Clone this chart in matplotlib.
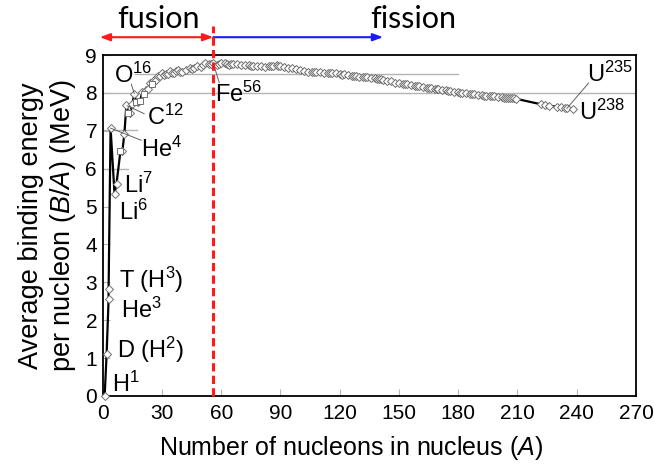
import matplotlib
matplotlib.use("Agg")
import matplotlib.pyplot as plt

plt.rcParams['font.family'] = ['Liberation Sans', 'DejaVu Sans']
plt.rcParams['mathtext.fontset'] = 'custom'
plt.rcParams['mathtext.rm'] = 'Liberation Sans'
plt.rcParams['mathtext.it'] = 'Liberation Sans:italic'
plt.rcParams['mathtext.bf'] = 'Liberation Sans:bold'

# ---- data: mass number A and binding energy per nucleon (MeV) ----
mass_number = [1, 2, 3, 3, 4, 6, 7, 9, 10, 11, 12, 13, 14, 15, 16, 17, 18, 19, 20, 21,
               22, 23, 24, 25, 26, 27, 28, 29, 30, 31, 32, 33, 34, 35, 36, 37, 38, 39,
               40, 42, 44, 45, 46, 48, 50, 51, 52, 54, 55, 56, 58, 59, 60, 62, 63, 64,
               65, 66, 68, 70, 72, 74, 75, 76, 78, 80, 82, 84, 85, 86, 88, 89, 90, 92,
               94, 96, 98, 100, 102, 104, 106, 107, 108, 110, 112, 114, 115, 116, 118,
               120, 121, 122, 124, 126, 127, 128, 130, 132, 133, 134, 136, 138, 139,
               140, 141, 142, 144, 146, 148, 150, 152, 153, 154, 156, 158, 159, 160,
               162, 164, 165, 166, 168, 169, 170, 172, 174, 175, 176, 178, 180, 181,
               182, 184, 186, 187, 188, 190, 192, 193, 194, 196, 197, 198, 200, 202,
               203, 204, 205, 206, 207, 208, 209, 222, 224, 226, 230, 232, 234, 235, 238]
binding_per_nucleon = [0.0, 1.112, 2.573, 2.827, 7.074, 5.332, 5.606, 6.463, 6.475, 6.928,
                       7.680, 7.470, 7.476, 7.699, 7.976, 7.751, 7.767, 7.779, 8.032, 7.972,
                       8.080, 8.112, 8.261, 8.223, 8.334, 8.332, 8.448, 8.449, 8.521, 8.481,
                       8.493, 8.498, 8.584, 8.520, 8.520, 8.570, 8.614, 8.557, 8.551, 8.617,
                       8.658, 8.619, 8.656, 8.723, 8.696, 8.742, 8.776, 8.764, 8.765, 8.790,
                       8.732, 8.768, 8.781, 8.795, 8.752, 8.736, 8.757, 8.760, 8.756, 8.729,
                       8.732, 8.725, 8.701, 8.711, 8.718, 8.711, 8.693, 8.717, 8.697, 8.712,
                       8.733, 8.714, 8.710, 8.693, 8.666, 8.654, 8.635, 8.605, 8.585, 8.562,
                       8.545, 8.554, 8.542, 8.551, 8.514, 8.531, 8.516, 8.523, 8.517, 8.505,
                       8.482, 8.488, 8.473, 8.455, 8.445, 8.443, 8.431, 8.428, 8.410, 8.408,
                       8.393, 8.394, 8.378, 8.376, 8.354, 8.347, 8.327, 8.304, 8.274, 8.262,
                       8.244, 8.229, 8.225, 8.205, 8.190, 8.180, 8.177, 8.161, 8.140, 8.131,
                       8.126, 8.112, 8.101, 8.097, 8.082, 8.066, 8.055, 8.048, 8.031, 8.019,
                       8.010, 8.007, 7.990, 7.975, 7.966, 7.961, 7.947, 7.932, 7.924, 7.916,
                       7.908, 7.916, 7.912, 7.899, 7.885, 7.877, 7.868, 7.860, 7.875, 7.870,
                       7.868, 7.848, 7.697, 7.675, 7.662, 7.631, 7.615, 7.600, 7.591, 7.570]
square_points_A = [9, 13, 17, 19, 21, 25]

x_ticks = [0, 30, 60, 90, 120, 150, 180, 210, 240, 270]
y_ticks = [0, 1, 2, 3, 4, 5, 6, 7, 8, 9]

# labels: (text, A, value, leader line endpoints or None)
labels = [
    (r'H$^{1}$', 4.5, 0.1, None),
    (r'D (H$^{2}$)', 7.4, 1.0, None),
    (r'He$^{3}$', 9.4, 2.05, None),
    (r'T (H$^{3}$)', 8.4, 2.85, None),
    (r'Li$^{6}$', 8.4, 4.66, None),
    (r'Li$^{7}$', 11.0, 5.37, None),
    (r'He$^{4}$', 19.6, 6.32, ((4, 7.07), (19.5, 6.75))),
    (r'C$^{12}$', 22.6, 7.16, ((12.5, 7.66), (21.0, 7.45))),
    (r'O$^{16}$', 5.8, 8.26, ((16, 7.98), (14.5, 8.23))),
    (r'Fe$^{56}$', 57.0, 7.76, ((56, 8.79), (59.0, 8.27))),
    (r'U$^{235}$', 245.0, 8.29, ((235, 7.59), (246.0, 8.26))),
    (r'U$^{238}$', 241.0, 7.29, None),
]

fig = plt.figure(figsize=(6.54, 4.65), dpi=100)
ax = fig.add_axes([0.157, 0.1484, 0.8155, 0.7333])
ax.set_xlim(0, 270)
ax.set_ylim(0, 9)

gray = '#b4b4b4'
ax.axhline(8, color=gray, lw=1.0, zorder=1)
ax.plot([16.5, 180], [8.5, 8.5], color=gray, lw=1.0, zorder=1)
ax.plot([0, 17.5], [7.02, 7.02], color=gray, lw=1.0, zorder=1)
ax.plot([0, 13], [6.0, 6.0], color=gray, lw=1.0, zorder=1)

ax.plot(mass_number, binding_per_nucleon, color='black', lw=1.6, zorder=3)
sq_x = [a for a, b in zip(mass_number, binding_per_nucleon) if a in square_points_A]
sq_y = [b for a, b in zip(mass_number, binding_per_nucleon) if a in square_points_A]
di_x = [a for a, b in zip(mass_number, binding_per_nucleon) if a not in square_points_A]
di_y = [b for a, b in zip(mass_number, binding_per_nucleon) if a not in square_points_A]
ax.plot(di_x, di_y, ls='none', marker='D', ms=4.0, mfc='white', mec='#707070', mew=0.7, zorder=4, clip_on=False)
ax.plot(sq_x, sq_y, ls='none', marker='s', ms=4.0, mfc='white', mec='#707070', mew=0.7, zorder=4)

for text, xa, ya, leader in labels:
    ax.text(xa, ya, text, fontsize=17, ha='left', va='baseline', zorder=6)
    if leader is not None:
        (x0, y0), (x1, y1) = leader
        ax.plot([x0, x1], [y0, y1], color='#606060', lw=0.7, zorder=5, clip_on=False)

# fusion / fission divider and arrows
ax.plot([56, 56], [0, 9.76], color='#ff1a1a', lw=2.2, dashes=(2.7, 1.4), zorder=7, clip_on=False)
ax.annotate('', xy=(-1.5, 9.47), xytext=(56, 9.47), xycoords='data', annotation_clip=False,
            arrowprops=dict(arrowstyle='<|-|>,head_length=0.6,head_width=0.22', color='#ff1a1a', lw=1.5,
                            shrinkA=0, shrinkB=0))
ax.annotate('', xy=(142, 9.47), xytext=(56, 9.47), xycoords='data', annotation_clip=False,
            arrowprops=dict(arrowstyle='-|>,head_length=0.6,head_width=0.22', color='#1a1aff', lw=1.5,
                            shrinkA=0, shrinkB=0))
ax.text(28.5, 9.7, 'fusion', fontsize=22, ha='center', va='baseline', family=['Lato', 'DejaVu Sans'])
ax.text(157, 9.7, 'fission', fontsize=22, ha='center', va='baseline', family=['Lato', 'DejaVu Sans'])

ax.set_xticks(x_ticks)
ax.set_yticks(y_ticks)
ax.tick_params(direction='in', length=5, color=gray, labelsize=15, pad=4)
ax.tick_params(axis='x', pad=6)
for s in ['top', 'right', 'left', 'bottom']:
    ax.spines[s].set_linewidth(1.3)

ax.set_xlabel(r'Number of nucleons in nucleus ($\mathit{A}$)', fontsize=18)
ax.xaxis.set_label_coords(0.466, -0.11)
ax.set_ylabel('Average binding energy\n' + r'per nucleon ($\mathit{B/A}$) (MeV)', fontsize=19.5,
              labelpad=5, linespacing=1.2)

fig.savefig('out.png', dpi=100)
